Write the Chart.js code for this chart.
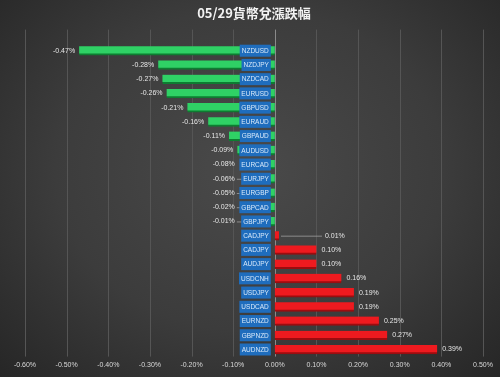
<!DOCTYPE html>
<html>
<head>
<meta charset="utf-8">
<script src="https://cdn.jsdelivr.net/npm/chart.js@4/dist/chart.umd.min.js"></script>
<style>
  html, body { margin: 0; padding: 0; }
  body {
    width: 500px; height: 377px; overflow: hidden;
    background: radial-gradient(ellipse at 50% 45%, #4a4a4a 0%, #3c3c3c 55%, #262626 100%);
  }
  #wrap { position: relative; width: 500px; height: 377px; }
</style>
</head>
<body>
<div id="wrap"><canvas id="chart" width="500" height="377"></canvas></div>
<script>
// 貨幣對
const pairs = [
  'NZDUSD', 'NZDJPY', 'NZDCAD', 'EURUSD', 'GBPUSD', 'EURAUD', 'GBPAUD', 'AUDUSD',
  'EURCAD', 'EURJPY', 'EURGBP', 'GBPCAD', 'GBPJPY', 'CADJPY', 'CADJPY', 'AUDJPY',
  'USDCNH', 'USDJPY', 'USDCAD', 'EURNZD', 'GBPNZD', 'AUDNZD'
];
// 漲跌幅 (%)
const changes = [
  -0.47, -0.28, -0.27, -0.26, -0.21, -0.16, -0.11, -0.09,
  -0.08, -0.06, -0.05, -0.02, -0.01, 0.01, 0.10, 0.10,
  0.16, 0.19, 0.19, 0.25, 0.27, 0.39
];
const xTicks = [-0.6, -0.5, -0.4, -0.3, -0.2, -0.1, 0, 0.1, 0.2, 0.3, 0.4, 0.5];

const FONT = '"Liberation Sans Narrow", "Liberation Sans", Arial, sans-serif';

// 網格線（向上延伸到標題下方）
const gridPlugin = {
  id: 'gridLines',
  beforeDatasetsDraw(chart) {
    const { ctx, chartArea, scales } = chart;
    const top = chartArea.top - 14;
    ctx.save();
    xTicks.forEach((v) => {
      const x = Math.round(scales.x.getPixelForValue(v)) + 0.5;
      ctx.strokeStyle = v === 0 ? '#8a8a8a' : '#555555';
      ctx.lineWidth = 1;
      ctx.beginPath();
      ctx.moveTo(x, top);
      ctx.lineTo(x, chartArea.bottom);
      ctx.stroke();
    });
    ctx.restore();
  },
};

// 數值標籤與貨幣對標籤
const labelPlugin = {
  id: 'barLabels',
  afterDatasetsDraw(chart) {
    const { ctx, scales } = chart;
    const meta = chart.getDatasetMeta(0);
    const zeroX = scales.x.getPixelForValue(0);
    ctx.save();
    ctx.textBaseline = 'middle';

    meta.data.forEach((bar, i) => {
      const v = changes[i];
      const y = bar.y;
      const text = v.toFixed(2) + '%';
      const endX = bar.x;
      ctx.font = '7px "Liberation Sans", Arial, sans-serif';
      ctx.fillStyle = '#e6e6e6';
      if (v < 0) {
        const want = endX - 4;
        const right = Math.min(want, zeroX - 40);
        ctx.textAlign = 'right';
        ctx.fillText(text, right, y);
        if (want - right > 8) {
          ctx.strokeStyle = '#a0a0a0';
          ctx.lineWidth = 0.8;
          ctx.beginPath();
          ctx.moveTo(right + 2, y + 0.5);
          ctx.lineTo(zeroX - 30, y + 0.5);
          ctx.stroke();
        }
      } else {
        let left = endX + 5;
        if (endX - zeroX < 10) {
          left = endX + 46;
          ctx.strokeStyle = '#a0a0a0';
          ctx.lineWidth = 0.8;
          ctx.beginPath();
          ctx.moveTo(endX + 2, y + 0.5);
          ctx.lineTo(left - 3, y + 0.5);
          ctx.stroke();
        }
        ctx.textAlign = 'left';
        ctx.fillText(text, left, y);
      }
    });

    // 貨幣對藍色標籤
    ctx.font = '6.5px ' + FONT;
    meta.data.forEach((bar, i) => {
      const y = bar.y;
      const name = pairs[i];
      const w = ctx.measureText(name).width;
      const right = zeroX - 6;
      ctx.fillStyle = '#1f6dbd';
      ctx.fillRect(right - w - 2, y - 6, w + 4, 12);
      ctx.fillStyle = '#d8e9fa';
      ctx.textAlign = 'right';
      ctx.fillText(name, right, y + 0.5);
    });
    ctx.restore();
  },
};

const ctx = document.getElementById('chart').getContext('2d');
new Chart(ctx, {
  type: 'bar',
  data: {
    labels: pairs,
    datasets: [{
      data: changes,
      backgroundColor: changes.map((v) => (v < 0 ? '#2fd165' : '#ee1a1f')),
      borderColor: changes.map((v) => (v < 0 ? '#0d7d31' : '#9c0c0f')),
      borderWidth: { top: 0, bottom: 2, left: 0, right: 0 },
      borderSkipped: false,
      barThickness: 9,
    }],
  },
  options: {
    indexAxis: 'y',
    responsive: false,
    animation: false,
    events: [],
    layout: { padding: { left: 25, right: 17, top: 0, bottom: 4 } },
    plugins: {
      legend: { display: false },
      tooltip: { enabled: false },
      title: {
        display: true,
        text: '05/29貨幣兌漲跌幅',
        color: '#f2f2f2',
        font: { size: 13, weight: 'bold', family: '"Noto Sans CJK TC", "Noto Sans", sans-serif' },
        padding: { top: 5, bottom: 23 },
      },
    },
    scales: {
      x: {
        min: -0.6,
        max: 0.5,
        afterBuildTicks: (scale) => {
          scale.ticks = xTicks.map((v) => ({ value: v }));
        },
        grid: { display: false, drawTicks: false },
        border: { display: false },
        ticks: {
          color: '#d9d9d9',
          font: { size: 7, family: '"Liberation Sans", Arial, sans-serif' },
          padding: 4,
          maxRotation: 0,
          autoSkip: false,
          callback: (v) => Number(v).toFixed(2) + '%',
        },
      },
      y: {
        display: false,
      },
    },
  },
  plugins: [gridPlugin, labelPlugin],
});
</script>
</body>
</html>
